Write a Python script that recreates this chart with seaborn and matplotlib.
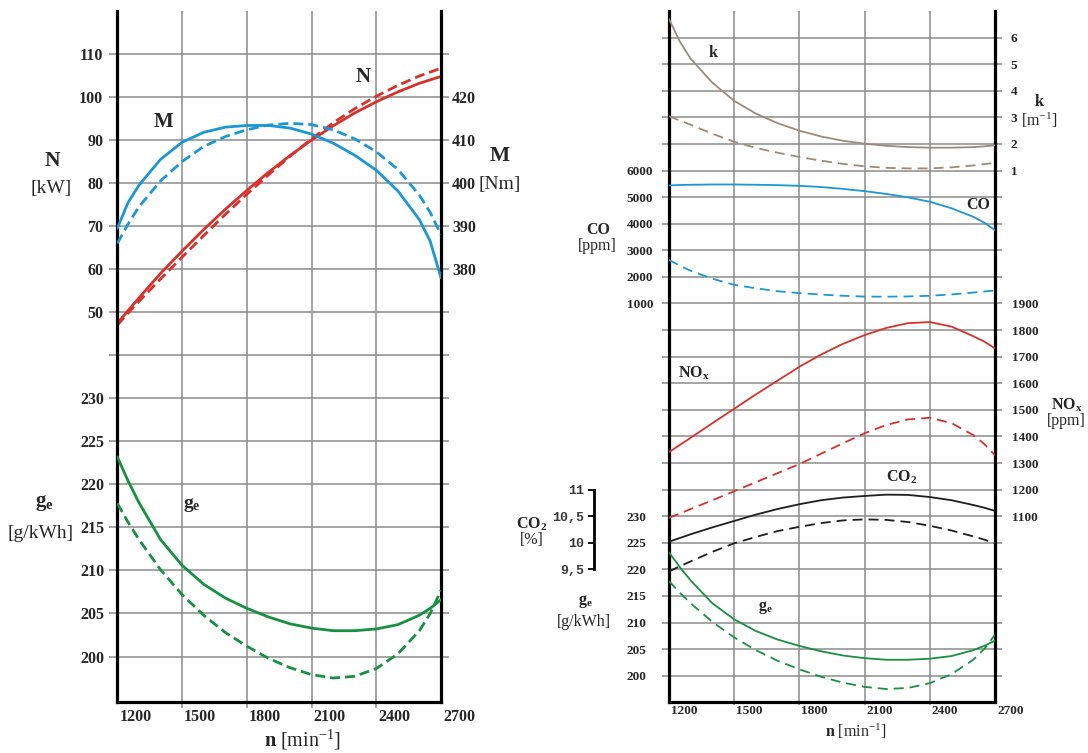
import matplotlib
matplotlib.use("Agg")
import matplotlib.pyplot as plt
import seaborn as sns
from matplotlib.transforms import ScaledTranslation

sns.set_style("white")
plt.rcParams["font.family"] = ["Liberation Serif", "DejaVu Serif"]
plt.rcParams["mathtext.fontset"] = "custom"
plt.rcParams["mathtext.rm"] = "Liberation Serif"
plt.rcParams["mathtext.bf"] = "Liberation Serif:bold"
plt.rcParams["mathtext.it"] = "Liberation Serif:italic"

# ---------------- data ----------------
rpm = [1200, 1250, 1300, 1400, 1500, 1600, 1700, 1800, 1900, 2000,
       2100, 2200, 2300, 2400, 2500, 2600, 2650, 2700]

N_solid = [47.4, 50.4, 53.3, 59.0, 64.2, 69.2, 73.9, 78.3, 82.5, 86.4,
           90.0, 93.3, 96.3, 98.9, 101.2, 103.2, 104.0, 104.8]
N_dashed = [47.0, 49.8, 52.5, 57.7, 62.8, 67.8, 72.7, 77.4, 81.9, 86.2,
            90.3, 94.0, 97.3, 100.2, 102.7, 104.9, 105.8, 106.7]
M_solid = [389.5, 395.5, 399.5, 405.5, 409.5, 411.8, 413.0, 413.4, 413.4, 412.8,
           411.4, 409.3, 406.5, 403.0, 398.2, 391.5, 386.5, 378.0]
M_dashed = [386.0, 390.5, 394.5, 400.5, 405.0, 408.5, 410.8, 412.4, 413.5, 413.9,
            413.6, 412.4, 410.3, 407.3, 403.2, 397.2, 393.2, 388.0]
ge_solid = [223.2, 220.4, 217.9, 213.6, 210.6, 208.4, 206.8, 205.6, 204.6, 203.8,
            203.3, 203.0, 203.0, 203.2, 203.7, 204.8, 205.6, 206.6]
ge_dashed = [217.8, 215.6, 213.6, 210.1, 207.2, 204.8, 202.8, 201.2, 199.8, 198.7,
             197.9, 197.5, 197.7, 198.6, 200.3, 203.0, 205.0, 207.7]
k_solid = [6.7, 5.85, 5.2, 4.3, 3.62, 3.14, 2.78, 2.5, 2.28, 2.12,
           2.01, 1.93, 1.88, 1.86, 1.86, 1.88, 1.91, 1.95]
k_dashed = [3.04, 2.88, 2.72, 2.38, 2.08, 1.85, 1.67, 1.51, 1.37, 1.25,
            1.16, 1.10, 1.08, 1.08, 1.12, 1.19, 1.24, 1.29]
CO_solid = [5440, 5455, 5465, 5475, 5475, 5465, 5450, 5425, 5380, 5310,
            5225, 5120, 4990, 4825, 4580, 4260, 4040, 3760]
CO_dashed = [2640, 2420, 2230, 1930, 1700, 1570, 1460, 1390, 1335, 1290,
             1260, 1255, 1265, 1290, 1340, 1410, 1450, 1490]
NOx_solid = [1341, 1368, 1395, 1450, 1504, 1558, 1610, 1662, 1708, 1748,
             1781, 1808, 1826, 1830, 1813, 1777, 1757, 1731]
NOx_dashed = [1094, 1110, 1127, 1160, 1194, 1228, 1262, 1296, 1335, 1374,
              1412, 1443, 1464, 1470, 1450, 1405, 1372, 1329]
CO2_solid = [10.02, 10.09, 10.16, 10.29, 10.41, 10.53, 10.635, 10.725, 10.80, 10.85,
             10.88, 10.905, 10.90, 10.86, 10.80, 10.71, 10.66, 10.60]
CO2_dashed = [9.46, 9.56, 9.65, 9.83, 9.99, 10.11, 10.22, 10.30, 10.37, 10.42,
              10.44, 10.43, 10.39, 10.32, 10.23, 10.12, 10.06, 9.99]

n_ticks = [1200, 1500, 1800, 2100, 2400, 2700]
n_labels = ["1200", "1500", "1800", "2100", "2400", "2700"]
N_ticks = [50, 60, 70, 80, 90, 100, 110]
M_ticks = [380, 390, 400, 410, 420]
ge_ticks = [200, 205, 210, 215, 220, 225, 230]
k_ticks = [1, 2, 3, 4, 5, 6]
CO_ticks = [1000, 2000, 3000, 4000, 5000, 6000]
NOx_ticks = [1100, 1200, 1300, 1400, 1500, 1600, 1700, 1800, 1900]
CO2_ticks = [9.5, 10, 10.5, 11]
CO2_labels = ["9,5", "10", "10,5", "11"]

# ---------------- styling ----------------
W, H = 1088, 753
fig = plt.figure(figsize=(W / 100, H / 100), dpi=100)

GRID = "#8c8c8c"
RED = "#d8312b"
BLUE = "#1c97d6"
GREEN = "#179141"
BROWN = "#9c8b7c"
BLACK = "#1e1e1e"
PX = 0.72  # points per pixel


def fx(px):
    return px / W


def fy(py):
    return 1 - py / H


def make_base(x0, x1, y0, y1, ylim):
    ax = fig.add_axes([fx(x0), fy(y1), (x1 - x0) / W, (y1 - y0) / H])
    ax.set_xlim(1200, 2700)
    ax.set_ylim(*ylim)
    return ax


def finish_base(ax, grid_ticks, fs, ytick_px, xtick_px, xpad):
    ax.set_xlim(1200, 2700)
    ax.set_yticks(grid_ticks)
    ax.set_yticklabels([])
    ax.set_xticks(n_ticks)
    ax.set_xticklabels(n_labels, fontweight="bold", fontsize=fs)
    ax.grid(True, color=GRID, lw=1.1)
    ax.set_axisbelow(True)
    for s in ["left", "right", "bottom"]:
        ax.spines[s].set_visible(True)
        ax.spines[s].set_color("black")
        ax.spines[s].set_linewidth(2.3)
    ax.spines["top"].set_visible(False)
    ax.tick_params(axis="y", left=True, right=True, labelleft=False, labelright=False,
                   direction="out", length=ytick_px * PX, width=1.1, color=GRID)
    ax.tick_params(axis="x", bottom=True, direction="out", length=xtick_px * PX,
                   width=1.1, color=GRID, pad=xpad)
    ticks = ax.xaxis.get_major_ticks()
    ticks[0].tick1line.set_visible(False)
    ticks[-1].tick1line.set_visible(False)
    for lab in ax.get_xticklabels():
        lab.set_horizontalalignment("left")
        lab.set_transform(lab.get_transform() + ScaledTranslation(2 / 100, 0, fig.dpi_scale_trans))
    ax.set_xlabel("")
    ax.set_ylabel("")


def make_twin(ax, ylim):
    tw = ax.twinx()
    for s in tw.spines.values():
        s.set_visible(False)
    tw.set_ylim(*ylim)
    return tw


def finish_twin(tw, ylim, ticks, labels, side, pad_px, fs):
    tw.set_ylim(*ylim)
    tw.set_xlim(1200, 2700)
    tw.set_yticks(ticks)
    tw.set_yticklabels(labels, fontweight="bold", fontsize=fs)
    if side == "left":
        tw.yaxis.tick_left()
    else:
        tw.yaxis.tick_right()
    tw.tick_params(axis="y", length=0, pad=pad_px * PX)
    tw.set_ylabel("")
    tw.set_xlabel("")


def curve(ax, y, color, lw, dashed, dash_px=(10, 5)):
    if dashed:
        ls = (0, (dash_px[0] * PX / lw, dash_px[1] * PX / lw))
    else:
        ls = "-"
    sns.lineplot(x=rpm, y=y, ax=ax, color=color, lw=lw, linestyle=ls)


# ================= LEFT PANEL =================
L_x0, L_x1, L_y0, L_y1 = 117.3, 441.0, 11.0, 701.7
N_lim = (-40.5, 120.0)
M_lim = (N_lim[0] + 320, N_lim[1] + 320)
geL_lim = (215 + N_lim[0] / 2, 215 + N_lim[1] / 2)

axL = make_base(L_x0, L_x1, L_y0, L_y1, N_lim)
twM = make_twin(axL, M_lim)
twGL = make_twin(axL, geL_lim)

lwL = 2.0
curve(axL, N_solid, RED, lwL, False)
curve(axL, N_dashed, RED, lwL, True)
curve(twM, M_solid, BLUE, lwL, False)
curve(twM, M_dashed, BLUE, lwL, True)
curve(twGL, ge_solid, GREEN, lwL, False)
curve(twGL, ge_dashed, GREEN, lwL, True)

axL.set_ylim(*N_lim)
finish_twin(twM, M_lim, M_ticks, [str(v) for v in M_ticks], "right", 11, 11.5)
finish_twin(twGL, geL_lim, ge_ticks, [str(v) for v in ge_ticks], "left", 13, 11.5)
twN = make_twin(axL, N_lim)
finish_twin(twN, N_lim, N_ticks, [str(v) for v in N_ticks], "left", 14, 11.5)
finish_base(axL, list(range(-30, 111, 10)), 11.5, 8, 6, 1)

# ================= RIGHT PANEL =================
R_x0, R_x1, R_y0, R_y1 = 669.0, 995.0, 11.0, 702.3
k_lim = (-19.0, 7.0)
CO_lim = (1000 * k_lim[0] + 5000, 1000 * k_lim[1] + 5000)
NOx_lim = (100 * k_lim[0] + 2300, 100 * k_lim[1] + 2300)
geR_lim = (5 * k_lim[0] + 290, 5 * k_lim[1] + 290)
CO2_lim = (0.5 * k_lim[0] + 16.5, 0.5 * k_lim[1] + 16.5)

axR = make_base(R_x0, R_x1, R_y0, R_y1, k_lim)
twK = make_twin(axR, k_lim)
twCO = make_twin(axR, CO_lim)
twNOx = make_twin(axR, NOx_lim)
twGR = make_twin(axR, geR_lim)
twCO2 = make_twin(axR, CO2_lim)

lwR = 1.3
dR = (10, 6)
curve(twK, k_solid, BROWN, lwR, False)
curve(twK, k_dashed, BROWN, lwR, True, dR)
curve(twCO, CO_solid, BLUE, lwR, False)
curve(twCO, CO_dashed, BLUE, lwR, True, dR)
curve(twNOx, NOx_solid, RED, lwR, False)
curve(twNOx, NOx_dashed, RED, lwR, True, dR)
curve(twCO2, CO2_solid, BLACK, lwR, False)
curve(twCO2, CO2_dashed, BLACK, lwR, True, dR)
curve(twGR, ge_solid, GREEN, lwR, False)
curve(twGR, ge_dashed, GREEN, lwR, True, dR)

axR.set_ylim(*k_lim)
finish_twin(twK, k_lim, k_ticks, [str(v) for v in k_ticks], "right", 15.7, 9.5)
finish_twin(twCO, CO_lim, CO_ticks, [str(v) for v in CO_ticks], "left", 15.7, 9.5)
finish_twin(twNOx, NOx_lim, NOx_ticks, [str(v) for v in NOx_ticks], "right", 16.8, 9.5)
finish_twin(twGR, geR_lim, ge_ticks, [str(v) for v in ge_ticks], "left", 22.7, 9.5)

# CO2 scale bar
twCO2.set_ylim(*CO2_lim)
twCO2.set_xlim(1200, 2700)
twCO2.yaxis.tick_left()
sp = twCO2.spines["left"]
sp.set_visible(True)
sp.set_position(("outward", 75 * PX))
sp.set_bounds(9.5, 11)
sp.set_color("black")
sp.set_linewidth(2.0)
twCO2.set_yticks(CO2_ticks)
twCO2.set_yticklabels(CO2_labels, family="Liberation Mono", fontweight="bold",
                      fontsize=9.5, color="#3a3a3a")
twCO2.tick_params(axis="y", length=6 * PX, width=1.3, color="black", pad=3)
twCO2.set_ylabel("")

finish_base(axR, list(range(-18, 7)), 9.5, 6.7, 3, 0)

# ================= TEXT LABELS =================
def T(x, y, s, size, bold=False, **kw):
    fig.text(fx(x), fy(y), s, fontsize=size, fontweight="bold" if bold else "normal",
             ha="center", va="center", **kw)

# left panel axis titles
T(52, 161, "N", 15.5, True)
T(51, 188, "[kW]", 14)
T(500, 156, "M", 15.5, True)
T(500, 184, "[Nm]", 14)
T(44, 503, r"$\mathbf{g}_{\mathbf{e}}$", 15)
T(41, 533, "[g/kWh]", 14)
T(303, 740, r"$\mathbf{n}$ [min$^{-1}$]", 14.5)
# left panel curve names
T(164, 122, "M", 15, True)
T(363, 77, "N", 15, True)
T(192, 505, r"$\mathbf{g}_{\mathbf{e}}$", 14)

# right panel axis titles
T(1039, 102, "k", 11.5, True)
T(1039, 120, "[m$^{-1}$]", 11.5)
T(598, 230, "CO", 11.5, True)
T(597, 246, "[ppm]", 11.5)
T(1067, 405, r"$\mathbf{NO_x}$", 11.5)
T(1066, 421, "[ppm]", 11.5)
T(532, 524, r"$\mathbf{CO_2}$", 11.5)
T(532, 540, "[%]", 11.5)
T(585, 602, r"$\mathbf{g}_{\mathbf{e}}$", 11.5)
T(584, 622, "[g/kWh]", 11.5)
T(856, 731, r"$\mathbf{n}$ [min$^{-1}$]", 11.5)
# right panel curve names
T(713, 53, "k", 11.5, True)
T(978, 205, "CO", 11.5, True)
T(694, 373, r"$\mathbf{NO_x}$", 11.5)
T(902, 477, r"$\mathbf{CO_2}$", 11.5)
T(765, 608, r"$\mathbf{g}_{\mathbf{e}}$", 11.5)

fig.savefig("out.png", dpi=100)
